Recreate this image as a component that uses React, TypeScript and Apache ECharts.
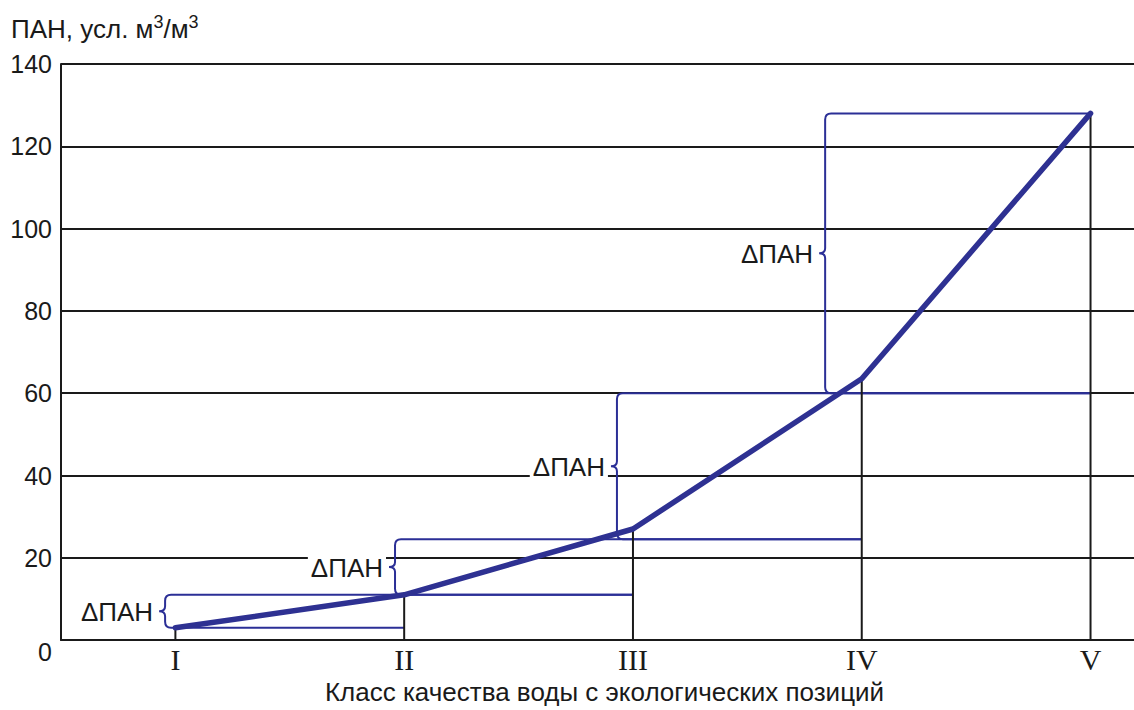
import React, { useEffect, useRef } from "react";
import * as echarts from "echarts";

// Classes of water quality (x) and PAN values (y)
const classes = ["I", "II", "III", "IV", "V"];
const classPos = [1, 2, 3, 4, 5];
const pan = [3, 11, 27, 63.5, 128];

// ΔPAN brackets: brace x (in class units), low / high levels, and where the horizontal lines end
const bracketX = [0.955, 1.96, 2.93, 3.84];
const bracketLow = [3, 11, 24.5, 60];
const bracketHigh = [11, 24.5, 60, 128];
const bracketLowEnd = [2, 3, 4, 5];
const bracketHighEnd = [3, 4, 5, 5];
const bracketLabel = "ΔПАН";

const yTicks = [0, 20, 40, 60, 80, 100, 120, 140];

const BLUE = "#2e3192";
const BLUE_THIN = "#2b2f96";
const INK = "#1a1a1a";
const SANS = "'Liberation Sans', Arial, sans-serif";
const SERIF = "'Liberation Serif', 'Times New Roman', serif";

export default function App() {
  const ref = useRef<HTMLDivElement>(null);

  useEffect(() => {
    if (!ref.current) return;
    const chart = echarts.init(ref.current, null, { renderer: "svg" });

    const bracketData = bracketX.map((x, i) => [
      x,
      bracketLow[i],
      bracketHigh[i],
      bracketLowEnd[i],
      bracketHighEnd[i],
    ]);
    const dropData = classPos.map((x, i) => [x, pan[i]]);
    const lineData = classPos.map((x, i) => [x, pan[i]]);

    const option: any = {
      animation: false,
      backgroundColor: "#ffffff",
      grid: { left: 61, right: 0, top: 64, bottom: 65, containLabel: false },
      graphic: [
        {
          type: "text",
          left: 11,
          top: 13,
          style: {
            text: "{a|ПАН, усл. м}{s|3}{a|/м}{s|3}",
            rich: {
              a: { fontSize: 26, fontFamily: SANS, fill: INK, color: INK },
              s: {
                fontSize: 18,
                fontFamily: SANS,
                fill: INK,
                color: INK,
                padding: [0, 0, 13, 0],
              },
            },
          },
        },
      ],
      xAxis: {
        type: "value",
        min: 0.5,
        max: 5.19,
        name: "Класс качества воды с экологических позиций",
        nameLocation: "middle",
        nameGap: 30,
        nameTextStyle: {
          fontSize: 26,
          fontFamily: SANS,
          color: INK,
          padding: [0, 0, 0, 14],
        },
        axisLine: { show: true, lineStyle: { color: INK, width: 2 } },
        axisTick: { show: false },
        splitLine: { show: false },
        axisLabel: {
          customValues: classPos,
          formatter: (v: number) => classes[classPos.indexOf(v)] ?? "",
          fontSize: 30,
          fontFamily: SERIF,
          color: INK,
          margin: 4,
        },
      },
      yAxis: {
        type: "value",
        min: 0,
        max: 140,
        interval: 20,
        axisLine: { show: true, lineStyle: { color: INK, width: 2 } },
        axisTick: { show: false },
        splitLine: { show: true, lineStyle: { color: INK, width: 2 } },
        axisLabel: {
          customValues: yTicks,
          formatter: (v: number) => (v === 0 ? "{z|0}" : String(v)),
          fontSize: 25,
          fontFamily: SANS,
          color: INK,
          margin: 9,
          rich: {
            z: { fontSize: 25, fontFamily: SANS, color: INK, padding: [24, 0, 0, 0] },
          },
        },
      },
      series: [
        {
          type: "custom",
          name: "brackets",
          z: 2,
          data: bracketData,
          renderItem: (params: any, api: any) => {
            const xb = api.value(0);
            const lo = api.value(1);
            const hi = api.value(2);
            const le = api.value(3);
            const he = api.value(4);
            const pLo = api.coord([xb, lo]);
            const pHi = api.coord([xb, hi]);
            const eLo = api.coord([le, lo]);
            const eHi = api.coord([he, hi]);
            const x = pLo[0];
            const yLo = pLo[1];
            const yHi = pHi[1];
            const mid = (yLo + yHi) / 2;
            const r = 6;
            const n = 6;
            const d =
              `M ${eHi[0]} ${yHi} L ${x + r} ${yHi} Q ${x} ${yHi} ${x} ${yHi + r} ` +
              `L ${x} ${mid - 5} Q ${x} ${mid} ${x - n} ${mid} Q ${x} ${mid} ${x} ${mid + 5} ` +
              `L ${x} ${yLo - r} Q ${x} ${yLo} ${x + r} ${yLo} L ${eLo[0]} ${yLo}`;
            return {
              type: "group",
              children: [
                {
                  type: "path",
                  shape: { pathData: d },
                  style: { fill: "none", stroke: BLUE_THIN, lineWidth: 2 },
                },
                {
                  type: "text",
                  x: x - n - 3,
                  y: mid + 1,
                  style: {
                    text: bracketLabel,
                    align: "right",
                    verticalAlign: "middle",
                    textAlign: "right",
                    textVerticalAlign: "middle",
                    fontSize: 26,
                    fontFamily: SANS,
                    fill: INK,
                    backgroundColor: "#ffffff",
                    padding: [2, 3, 2, 3],
                  },
                },
              ],
            };
          },
        },
        {
          type: "custom",
          name: "drops",
          z: 3,
          data: dropData,
          renderItem: (params: any, api: any) => {
            const p0 = api.coord([api.value(0), 0]);
            const p1 = api.coord([api.value(0), api.value(1)]);
            return {
              type: "line",
              shape: { x1: p0[0], y1: p0[1], x2: p1[0], y2: p1[1] },
              style: { stroke: INK, lineWidth: 2 },
            };
          },
        },
        {
          type: "line",
          name: "ПАН",
          z: 4,
          data: lineData,
          showSymbol: false,
          symbol: "none",
          lineStyle: { color: BLUE, width: 5.5, cap: "round", join: "round" },
        },
      ],
    };

    chart.setOption(option);
    return () => chart.dispose();
  }, []);

  return (
    <div
      ref={ref}
      style={{ position: "absolute", left: 0, top: 0, width: 1134, height: 710, background: "#fff" }}
    />
  );
}
